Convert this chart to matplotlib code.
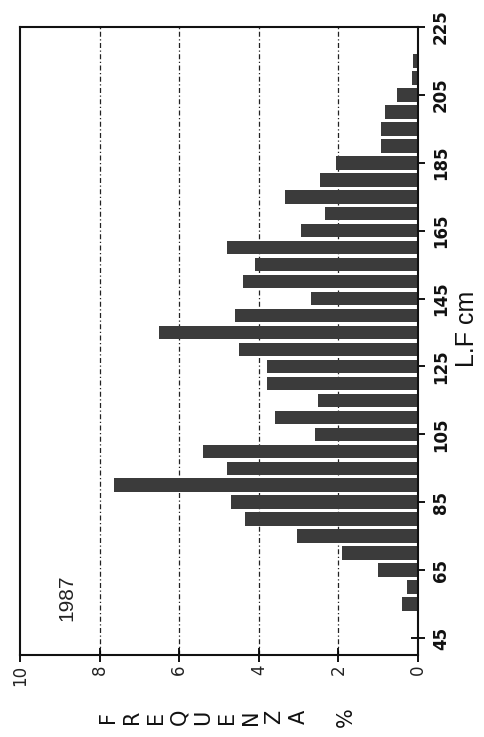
import matplotlib
matplotlib.use("Agg")
import matplotlib.pyplot as plt

# Data (length class in cm, frequency %)
lengths = [55, 60, 65, 70, 75, 80, 85, 90, 95, 100, 105, 110, 115, 120, 125,
           130, 135, 140, 145, 150, 155, 160, 165, 170, 175, 180, 185, 190,
           195, 200, 205, 210, 215]
freqs = [0.40, 0.28, 1.00, 1.90, 3.05, 4.35, 4.70, 7.65, 4.80, 5.40, 2.60,
         3.60, 2.50, 3.80, 3.80, 4.50, 6.50, 4.60, 2.70, 4.40, 4.10, 4.80,
         2.93, 2.33, 3.33, 2.47, 2.05, 0.93, 0.93, 0.83, 0.53, 0.15, 0.12]
length_ticks = [45, 65, 85, 105, 125, 145, 165, 185, 205, 225]
freq_ticks = [0, 2, 4, 6, 8, 10]
grid_vals = [2, 4, 6, 8]
year_label = "1987"
x_label = "L.F cm"
y_label = "FREQUENZA %"

W, H = 485, 737
fig = plt.figure(figsize=(W / 100, H / 100), dpi=100)
ax = fig.add_axes([20 / W, 1 - 655 / H, 398 / W, 628 / H])

ax.barh(lengths, freqs, height=4.0, color='#3b3b3b', edgecolor='none', zorder=2)
for g in grid_vals:
    ax.axvline(g, color='#222222', lw=0.9, linestyle=(0, (4, 2, 1, 2)), zorder=1)

ax.set_xlim(10, 0)
ax.set_ylim(40, 225)

ax.set_xticks(freq_ticks)
ax.set_xticklabels([str(v) for v in freq_ticks], rotation=90,
                   family='DejaVu Sans', fontsize=12, va='top', ha='center',
                   color='#222222')
ax.set_yticks(length_ticks)
ax.yaxis.tick_right()
ax.set_yticklabels([str(v) for v in length_ticks], rotation=90,
                   family='DejaVu Sans', fontsize=12, fontweight='semibold',
                   va='center', ha='left', color='#111111')

ax.tick_params(axis='x', direction='inout', length=10, width=1.3, pad=2)
ax.tick_params(axis='y', direction='inout', length=10, width=1.3, pad=5)

for s in ax.spines.values():
    s.set_linewidth(1.5)
    s.set_color('#111111')

ax.text(8.82, 56.8, year_label, rotation=90, ha='center', va='center',
        family=['Liberation Sans', 'DejaVu Sans'], fontsize=15, color='#222222')

fig.text(467 / W, 1 - 329 / H, x_label, rotation=90, ha='center', va='center',
         family=['Liberation Sans', 'DejaVu Sans'], fontsize=18, color='#111111')

x0, step = 108, 23.8
for i, ch in enumerate(y_label):
    if ch == ' ':
        continue
    fig.text((x0 + i * step) / W, 1 - 717 / H, ch, rotation=90,
             ha='center', va='center', family='DejaVu Sans', fontsize=15,
             color='#111111')

fig.savefig("out.png", dpi=100)
